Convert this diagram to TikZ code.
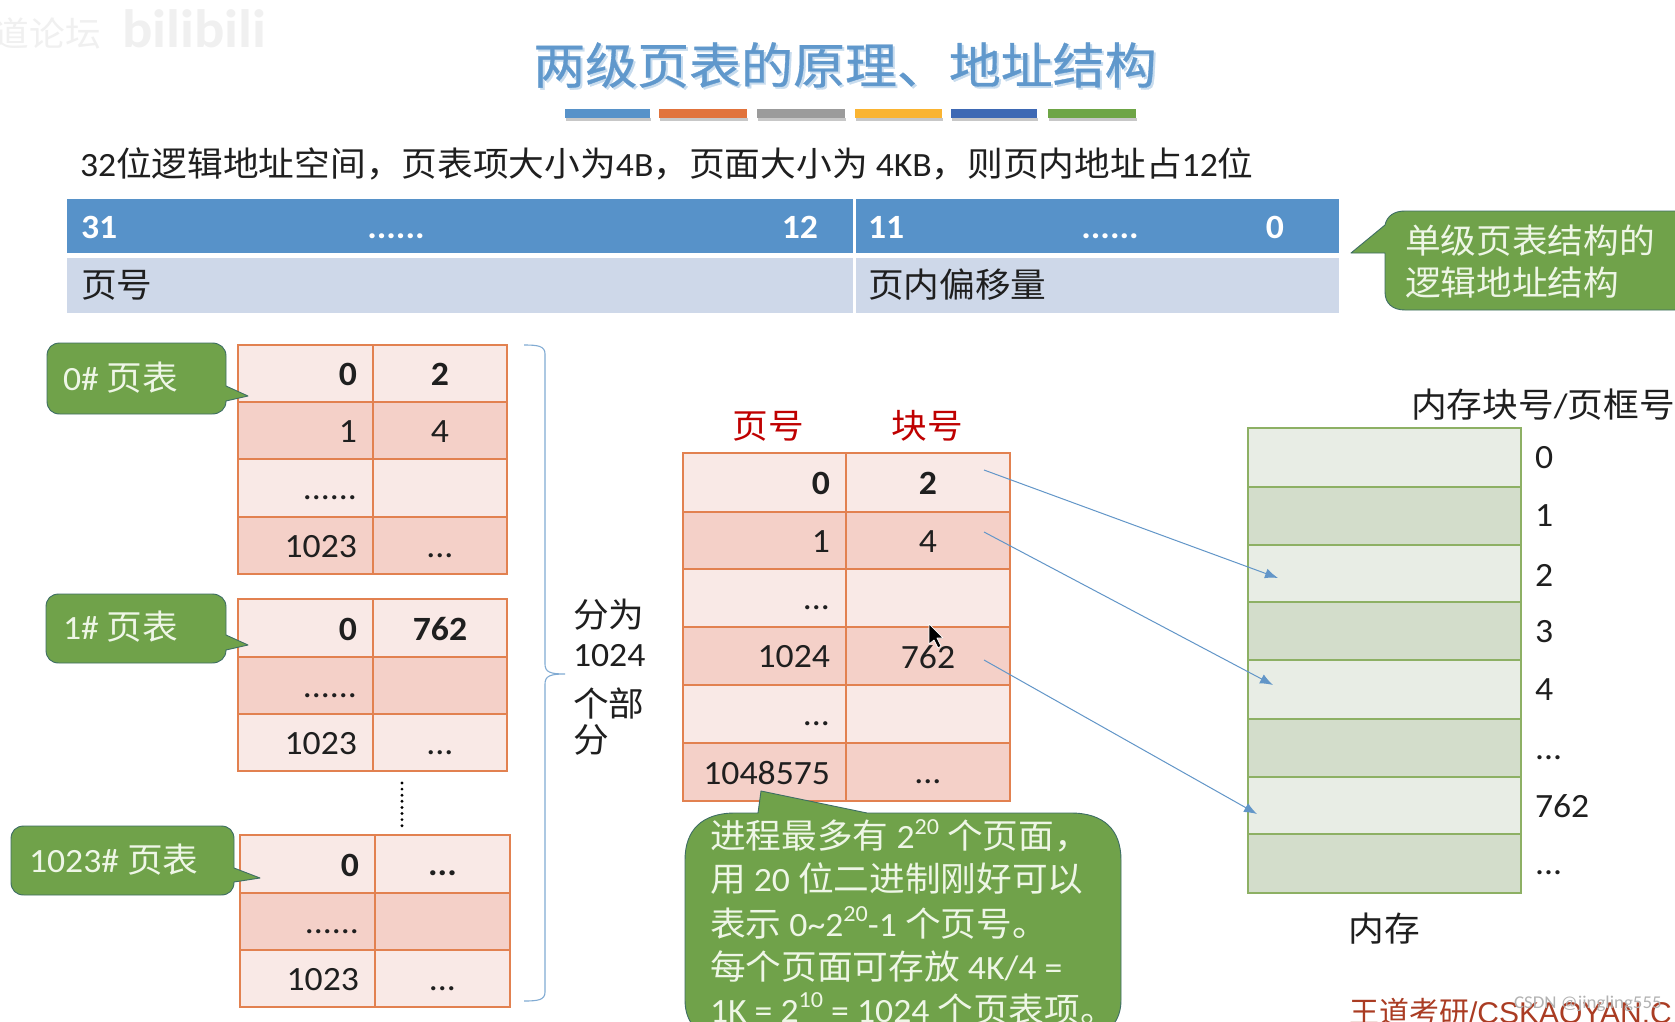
\documentclass[tikz,border=0pt]{standalone}
\usepackage{fontspec}
\setmainfont[FakeStretch=1.05]{Carlito}
\newfontfamily\cjf[FakeStretch=1.05]{Noto Sans CJK SC}
\newfontfamily\cjt[FakeStretch=1.06,FakeBold=0.7]{Noto Sans CJK SC}
\newfontfamily\cjb{Noto Sans CJK SC}
\newfontfamily\brandlat{Liberation Sans}
\usetikzlibrary{arrows.meta,decorations.pathreplacing}
\definecolor{hdrblue}{RGB}{87,146,201}
\definecolor{rowblue}{RGB}{206,216,233}
\definecolor{titleblue}{RGB}{96,152,204}
\definecolor{titleshadow}{RGB}{200,220,238}
\definecolor{pk}{RGB}{226,129,80}
\definecolor{pl}{RGB}{249,233,230}
\definecolor{pd}{RGB}{244,208,200}
\definecolor{gb}{RGB}{141,176,100}
\definecolor{gl}{RGB}{232,237,229}
\definecolor{gd}{RGB}{211,221,203}
\definecolor{callg}{RGB}{112,162,74}
\definecolor{calle}{RGB}{62,110,100}
\definecolor{calltxt}{RGB}{238,246,230}
\definecolor{linkb}{RGB}{98,150,200}
\definecolor{wm}{RGB}{240,240,240}
\definecolor{brandr}{RGB}{170,60,35}
\newcommand{\cj}[1]{{\cjf #1}}
\newcommand{\fs}[1]{\fontsize{#1}{#1}\selectfont}
\newcommand{\sups}[1]{\raisebox{0.42em}{\fs{23}#1}}
\newcommand{\ph}{\vphantom{0}}
\tikzset{
  x=1pt,y=-1pt,
  txt/.style={inner sep=0pt,outer sep=0pt,font=\fs{34},text=black!88,yshift=-1pt},
  txl/.style={txt,anchor=west},
  txr/.style={txt,anchor=east},
  txc/.style={txt,anchor=center},
  cella/.style={draw=pk,line width=1.8pt,fill=pl},
  cellb/.style={draw=pk,line width=1.8pt,fill=pd},
  mema/.style={draw=gb,line width=2pt,fill=gl},
  memb/.style={draw=gb,line width=2pt,fill=gd},
  callout/.style={fill=callg,draw=calle,line width=0.9pt,line join=round},
  link/.style={draw=linkb,line width=1pt,-{Latex[length=13pt,width=10pt]}},
  brace line/.style={draw=linkb!80,line width=1.1pt},
  bar/.style={inner sep=0pt,outer sep=0pt,minimum height=9pt,anchor=north west}
}
% rows of a table: \prow{x1}{xm}{x2}{y1}{y2}{style}{name}{left}{right}
\newcommand{\prow}[9]{%
  \draw[#6] (#1,#4) rectangle (#2,#5);
  \draw[#6] (#2,#4) rectangle (#3,#5);
  \node[txr] (#7l) at (#2-16,{(#4+#5)/2}) {\ph #8};
  \node[txc] (#7r) at ({(#2+#3)/2},{(#4+#5)/2}) {\ph #9};
}
\begin{document}
\begin{tikzpicture}
\useasboundingbox (0,0) rectangle (1675,1022);
\clip (0,0) rectangle (1675,1022);
\fill[white] (0,0) rectangle (1675,1022);

% watermark
\node[txl,text=wm] (wma) at (-6,32) {\cj{\fs{34}道论坛}};
\node[txl,text=wm,font=\fs{54}\bfseries] (wmb) at (122,28) {bilibili};

% title
\node[txc,text=titleshadow] (titles) at (847,66) {\cjt\fs{49}两级页表的原理、地址结构};
\node[txc,text=titleblue] (title) at (845,64) {\cjt\fs{49}两级页表的原理、地址结构};
\foreach \a/\b in {565/650,659/747,757/845,855/942,951/1037,1048/1136}{
  \fill[black!22] (\a+1,118) rectangle (\b+1,121);
}
\node[bar,minimum width=85pt,fill=hdrblue] (b1) at (565,109) {};
\node[bar,minimum width=88pt,fill={rgb,255:red,225;green,115;blue,60}] (b2) at (659,109) {};
\node[bar,minimum width=88pt,fill={rgb,255:red,155;green,155;blue,155}] (b3) at (757,109) {};
\node[bar,minimum width=87pt,fill={rgb,255:red,250;green,180;blue,50}] (b4) at (855,109) {};
\node[bar,minimum width=86pt,fill={rgb,255:red,62;green,105;blue,180}] (b5) at (951,109) {};
\node[bar,minimum width=88pt,fill={rgb,255:red,110;green,165;blue,70}] (b6) at (1048,109) {};

% subtitle
\node[txl] (sub) at (80,163) {32\cj{位逻辑地址空间，页表项大小为}4B\cj{，页面大小为} 4KB\cj{，则页内地址占}12\cj{位}};

% address structure
\fill[hdrblue] (67,199) rectangle (853,253);
\fill[hdrblue] (856,199) rectangle (1339,253);
\fill[rowblue] (67,258) rectangle (853,313);
\fill[rowblue] (856,258) rectangle (1339,313);
\node[txl,text=white,font=\fs{34}\bfseries] (h31) at (81,226) {31};
\node[txc,text=white,font=\fs{34}\bfseries] (hd1) at (396,226) {\ph ......};
\node[txr,text=white,font=\fs{34}\bfseries] (h12) at (818,226) {12};
\node[txl,text=white,font=\fs{34}\bfseries] (h11) at (868,226) {11};
\node[txc,text=white,font=\fs{34}\bfseries] (hd2) at (1110,226) {\ph ......};
\node[txc,text=white,font=\fs{34}\bfseries] (h0) at (1275,226) {0};
\node[txl] (lpn) at (81,284) {\cj{页号}};
\node[txl] (loff) at (868,284) {\cj{页内偏移量}};

% top right callout
\draw[callout] (1405,211) -- (1685,211) -- (1685,310) -- (1405,310)
  .. controls (1392,310) and (1385,303) .. (1385,292) -- (1385,253) -- (1351,253) -- (1385,225)
  .. controls (1387,216) and (1394,211) .. (1405,211) -- cycle;
\node[txl,text=calltxt] (ct1) at (1405,240) {\cj{单级页表结构的}};
\node[txl,text=calltxt] (ct2) at (1405,282) {\cj{逻辑地址结构}};

% table 0
\prow{238}{373}{507}{345}{402}{cella}{ta}{\textbf{0}}{\textbf{2}}
\prow{238}{373}{507}{402}{459}{cellb}{tb}{1}{4}
\prow{238}{373}{507}{459}{517}{cella}{tc}{......}{}
\prow{238}{373}{507}{517}{574}{cellb}{td}{1023}{...}
% table 1
\prow{238}{373}{507}{599}{657}{cella}{ua}{\textbf{0}}{\textbf{762}}
\prow{238}{373}{507}{657}{714}{cellb}{ub}{......}{}
\prow{238}{373}{507}{714}{771}{cella}{uc}{1023}{...}
% dots
\draw[black,line width=3.2pt,line cap=round,dash pattern=on 0pt off 6.1pt] (402,783) -- (402,826);
% table 2
\prow{240}{375}{510}{835}{893}{cella}{va}{\textbf{0}}{\textbf{...}}
\prow{240}{375}{510}{893}{950}{cellb}{vb}{......}{}
\prow{240}{375}{510}{950}{1007}{cella}{vc}{1023}{...}

% left callouts
\draw[callout] (60,343) -- (212,343) .. controls (220,343) and (226,348) .. (226,356)
  -- (226,386) -- (248,396) -- (226,401) .. controls (226,409) and (220,414) .. (212,414)
  -- (60,414) .. controls (52,414) and (47,409) .. (47,401) -- (47,356) .. controls (47,348) and (52,343) .. (60,343) -- cycle;
\node[txl,text=calltxt] (c0) at (63,377) {0\# \cj{页表}};
\draw[callout] (59,594) -- (212,594) .. controls (220,594) and (226,599) .. (226,607)
  -- (226,635) -- (248,645) -- (226,650) .. controls (226,658) and (220,663) .. (212,663)
  -- (59,663) .. controls (51,663) and (46,658) .. (46,650) -- (46,607) .. controls (46,599) and (51,594) .. (59,594) -- cycle;
\node[txl,text=calltxt] (c1) at (63,626) {1\# \cj{页表}};
\draw[callout] (24,826) -- (221,826) .. controls (229,826) and (234,831) .. (234,839)
  -- (234,868) -- (260,878) -- (234,882) .. controls (234,890) and (229,895) .. (221,895)
  -- (24,895) .. controls (16,895) and (11,890) .. (11,882) -- (11,839) .. controls (11,831) and (16,826) .. (24,826) -- cycle;
\node[txl,text=calltxt] (c2) at (29,859) {1023\# \cj{页表}};

% brace
\draw[brace line] (524,345) .. controls (538,345) and (545,346) .. (545,354) -- (545,664)
  .. controls (545,672) and (550,674) .. (565,674) .. controls (550,674) and (545,676) .. (545,684)
  -- (545,992) .. controls (545,1000) and (538,1001) .. (524,1001);
\node[txl] (sa) at (573,614) {\cj{分为}};
\node[txl] (sb) at (573,655) {1024};
\node[txl] (sc) at (573,702) {\cj{个部}};
\node[txl] (sd) at (573,739) {\cj{分}};

% middle table
\node[txc,text=red!75!black] (hpn) at (768,425) {\cj{页号}};
\node[txc,text=red!75!black] (hfn) at (927,425) {\cj{块号}};
\prow{683}{846}{1010}{453}{512}{cella}{ma}{\textbf{0}}{\textbf{2}}
\prow{683}{846}{1010}{512}{569}{cellb}{mb}{1}{4}
\prow{683}{846}{1010}{569}{627}{cella}{mc}{...}{}
\prow{683}{846}{1010}{627}{685}{cellb}{md}{1024}{762}
\prow{683}{846}{1010}{685}{743}{cella}{me}{...}{}
\prow{683}{846}{1010}{743}{801}{cellb}{mf}{1048575}{...}

% cursor
\draw[white,fill=black,line width=0.7pt,line join=round] (929,624) -- (929,644) -- (934,640) -- (938,648) -- (941,646) -- (937,638) -- (943,638) -- cycle;

% middle callout
\draw[callout] (758,813) -- (761,791) -- (867,813) -- (1071,813) .. controls (1104,813) and (1121,830) .. (1121,860)
  -- (1121,1000) .. controls (1121,1020) and (1110,1035) .. (1085,1040) -- (720,1040)
  .. controls (695,1035) and (685,1020) .. (685,1000) -- (685,860) .. controls (685,830) and (702,813) .. (735,813) -- cycle;
\node[txl,text=calltxt] (m1) at (710,835) {\cj{进程最多有} 2\sups{20} \cj{个页面，}};
\node[txl,text=calltxt] (m2) at (710,878) {\cj{用} 20 \cj{位二进制刚好可以}};
\node[txl,text=calltxt] (m3) at (710,922) {\cj{表示} 0\textasciitilde 2\sups{20}-1 \cj{个页号。}};
\node[txl,text=calltxt] (m4) at (710,966) {\cj{每个页面可存放} 4K/4 =};
\node[txl,text=calltxt] (m5) at (710,1008) {1K = 2\sups{10} = 1024 \cj{个页表项。}};

% memory
\node[txc] (mh) at (1543,404) {\cj{内存块号}/\cj{页框号}};
\foreach \ya/\yb/\sty [count=\i] in {428/487/mema,487/545/memb,545/602/mema,602/660/memb,660/719/mema,719/777/memb,777/834/mema,834/893/memb}{
  \draw[\sty] (1248,\ya) rectangle (1521,\yb);
}
\node[txl] (k0) at (1535,457) {0};
\node[txl] (k1) at (1535,515) {1};
\node[txl] (k2) at (1535,574) {2};
\node[txl] (k3) at (1535,631) {3};
\node[txl] (k4) at (1535,689) {4};
\node[txl] (k5) at (1535,748) {\ph ...};
\node[txl] (k6) at (1535,805) {762};
\node[txl] (k7) at (1535,863) {\ph ...};
\node[txc] (mm) at (1384,928) {\cj{内存}};

% links
\coordinate (s1) at (984,470);
\coordinate (e1) at (1278,578);
\coordinate (s2) at (984,532);
\coordinate (e2) at (1273,685);
\coordinate (s3) at (984,660);
\coordinate (e3) at (1257,814);
\draw[link] (s1) -- (e1);
\draw[link] (s2) -- (e2);
\draw[link] (s3) -- (e3);

% branding
\node[txl,text=brandr] (brand) at (1349,1011) {{\cjb\fs{30}王道考研}{\brandlat\fs{30}/CSKAOYAN.C}};
\node[txl,text=black!30,font=\fs{18}] (csdn) at (1514,1003) {CSDN @jingling555};
\end{tikzpicture}
\end{document}
